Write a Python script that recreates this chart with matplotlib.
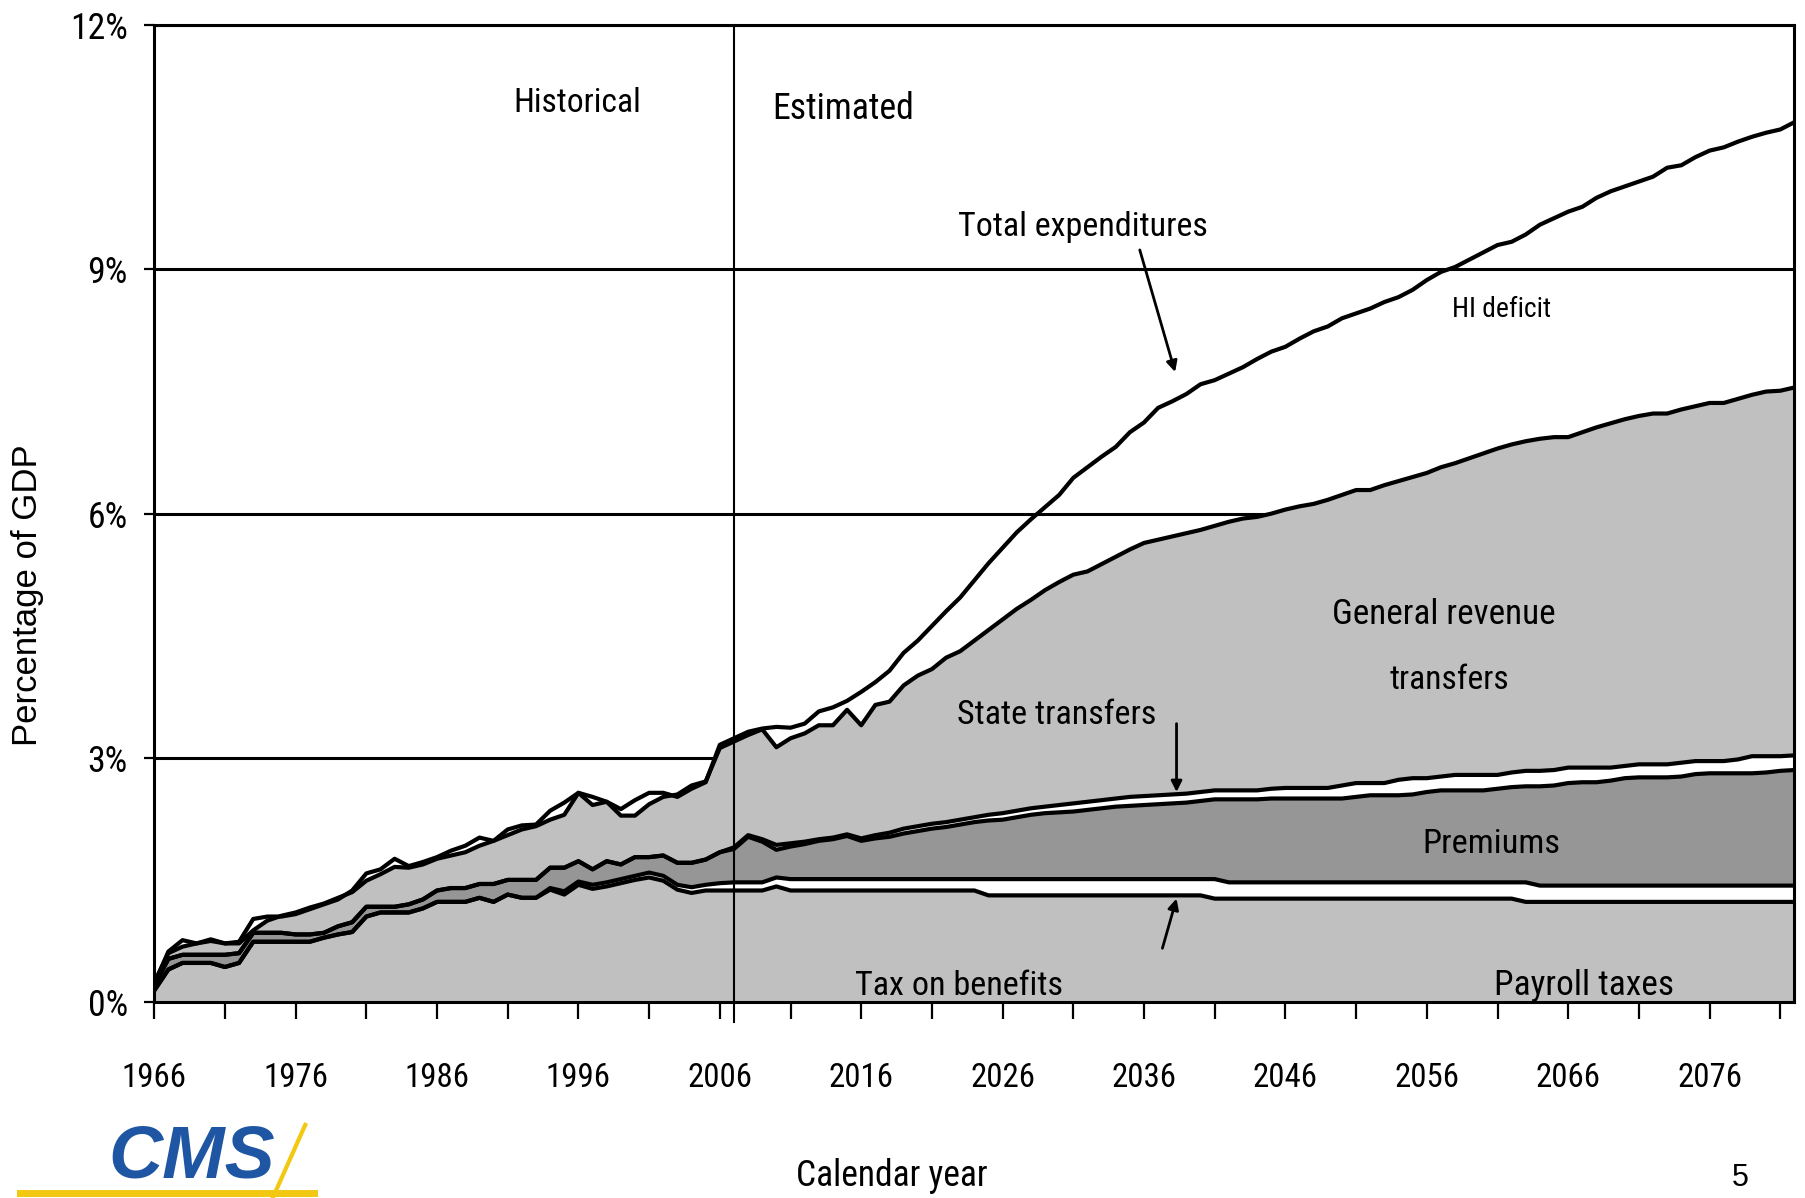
import numpy as np
import matplotlib
matplotlib.use("Agg")
import matplotlib.pyplot as plt
from matplotlib.font_manager import fontManager, FontProperties
from matplotlib.lines import Line2D

# calendar years 1966-2082, levels in percent of GDP (tops of the stacked layers)
years = np.arange(1966, 2083)

payroll_top = [
    0.14, 0.40, 0.48, 0.48, 0.48, 0.43, 0.48, 0.74, 0.74, 0.74,
    0.74, 0.74, 0.79, 0.83, 0.86, 1.05, 1.10, 1.10, 1.10, 1.15,
    1.23, 1.23, 1.23, 1.28, 1.23, 1.32, 1.28, 1.28, 1.38, 1.32,
    1.44, 1.39, 1.42, 1.46, 1.50, 1.53, 1.49, 1.38, 1.34, 1.37,
    1.37, 1.37, 1.37, 1.37, 1.42, 1.37, 1.37, 1.37, 1.37, 1.37,
    1.37, 1.37, 1.37, 1.37, 1.37, 1.37, 1.37, 1.37, 1.37, 1.31,
    1.31, 1.31, 1.31, 1.31, 1.31, 1.31, 1.31, 1.31, 1.31, 1.31,
    1.31, 1.31, 1.31, 1.31, 1.31, 1.27, 1.27, 1.27, 1.27, 1.27,
    1.27, 1.27, 1.27, 1.27, 1.27, 1.27, 1.27, 1.27, 1.27, 1.27,
    1.27, 1.27, 1.27, 1.27, 1.27, 1.27, 1.27, 1.23, 1.23, 1.23,
    1.23, 1.23, 1.23, 1.23, 1.23, 1.23, 1.23, 1.23, 1.23, 1.23,
    1.23, 1.23, 1.23, 1.23, 1.23, 1.23, 1.23,
]

tax_benefits_top = [
    0.14, 0.40, 0.48, 0.48, 0.48, 0.43, 0.48, 0.74, 0.74, 0.74,
    0.74, 0.74, 0.79, 0.83, 0.86, 1.05, 1.10, 1.10, 1.10, 1.15,
    1.23, 1.23, 1.23, 1.28, 1.23, 1.32, 1.28, 1.28, 1.40, 1.36,
    1.48, 1.44, 1.47, 1.51, 1.55, 1.59, 1.55, 1.44, 1.41, 1.44,
    1.46, 1.47, 1.47, 1.47, 1.53, 1.51, 1.51, 1.51, 1.51, 1.51,
    1.51, 1.51, 1.51, 1.51, 1.51, 1.51, 1.51, 1.51, 1.51, 1.51,
    1.51, 1.51, 1.51, 1.51, 1.51, 1.51, 1.51, 1.51, 1.51, 1.51,
    1.51, 1.51, 1.51, 1.51, 1.51, 1.51, 1.47, 1.47, 1.47, 1.47,
    1.47, 1.47, 1.47, 1.47, 1.47, 1.47, 1.47, 1.47, 1.47, 1.47,
    1.47, 1.47, 1.47, 1.47, 1.47, 1.47, 1.47, 1.47, 1.43, 1.43,
    1.43, 1.43, 1.43, 1.43, 1.43, 1.43, 1.43, 1.43, 1.43, 1.43,
    1.43, 1.43, 1.43, 1.43, 1.43, 1.43, 1.43,
]

premiums_top = [
    0.20, 0.53, 0.58, 0.58, 0.58, 0.58, 0.60, 0.85, 0.85, 0.85,
    0.83, 0.83, 0.85, 0.93, 0.98, 1.17, 1.17, 1.17, 1.20, 1.26,
    1.37, 1.40, 1.40, 1.45, 1.45, 1.50, 1.50, 1.50, 1.65, 1.65,
    1.73, 1.63, 1.73, 1.69, 1.78, 1.78, 1.80, 1.71, 1.71, 1.75,
    1.84, 1.88, 2.03, 1.97, 1.87, 1.91, 1.94, 1.98, 2.00, 2.04,
    1.98, 2.01, 2.03, 2.07, 2.10, 2.13, 2.15, 2.18, 2.21, 2.23,
    2.24, 2.27, 2.30, 2.32, 2.33, 2.34, 2.36, 2.38, 2.40, 2.41,
    2.42, 2.43, 2.44, 2.45, 2.47, 2.49, 2.49, 2.49, 2.49, 2.50,
    2.50, 2.50, 2.50, 2.50, 2.50, 2.52, 2.54, 2.54, 2.54, 2.55,
    2.58, 2.60, 2.60, 2.60, 2.60, 2.62, 2.64, 2.65, 2.65, 2.66,
    2.69, 2.70, 2.70, 2.72, 2.75, 2.76, 2.76, 2.76, 2.77, 2.80,
    2.81, 2.81, 2.81, 2.81, 2.82, 2.84, 2.85,
]

state_transfers_top = [
    0.20, 0.53, 0.58, 0.58, 0.58, 0.58, 0.60, 0.85, 0.85, 0.85,
    0.83, 0.83, 0.85, 0.93, 0.98, 1.17, 1.17, 1.17, 1.20, 1.26,
    1.37, 1.40, 1.40, 1.45, 1.45, 1.50, 1.50, 1.50, 1.65, 1.65,
    1.73, 1.63, 1.73, 1.69, 1.78, 1.78, 1.80, 1.71, 1.71, 1.75,
    1.84, 1.90, 2.05, 2.00, 1.93, 1.95, 1.97, 2.00, 2.02, 2.06,
    2.01, 2.05, 2.08, 2.13, 2.16, 2.19, 2.21, 2.24, 2.27, 2.30,
    2.32, 2.35, 2.38, 2.40, 2.42, 2.44, 2.46, 2.48, 2.50, 2.52,
    2.53, 2.54, 2.55, 2.56, 2.58, 2.60, 2.60, 2.60, 2.60, 2.62,
    2.63, 2.63, 2.63, 2.63, 2.66, 2.69, 2.69, 2.69, 2.73, 2.75,
    2.75, 2.77, 2.79, 2.79, 2.79, 2.79, 2.82, 2.84, 2.84, 2.85,
    2.88, 2.88, 2.88, 2.88, 2.90, 2.92, 2.92, 2.92, 2.94, 2.96,
    2.96, 2.96, 2.98, 3.02, 3.02, 3.02, 3.03,
]

general_revenue_top = [
    0.24, 0.60, 0.68, 0.72, 0.75, 0.72, 0.72, 0.88, 1.00, 1.06,
    1.10, 1.16, 1.21, 1.28, 1.35, 1.49, 1.57, 1.66, 1.65, 1.69,
    1.76, 1.80, 1.84, 1.92, 1.98, 2.05, 2.12, 2.16, 2.24, 2.30,
    2.57, 2.42, 2.46, 2.29, 2.29, 2.43, 2.52, 2.55, 2.66, 2.71,
    3.12, 3.20, 3.28, 3.35, 3.13, 3.24, 3.30, 3.40, 3.40, 3.59,
    3.40, 3.65, 3.69, 3.89, 4.01, 4.09, 4.23, 4.31, 4.44, 4.57,
    4.70, 4.83, 4.94, 5.06, 5.16, 5.25, 5.29, 5.38, 5.47, 5.56,
    5.64, 5.68, 5.72, 5.76, 5.80, 5.85, 5.90, 5.94, 5.96, 6.00,
    6.05, 6.09, 6.12, 6.17, 6.23, 6.29, 6.29, 6.35, 6.40, 6.45,
    6.50, 6.57, 6.62, 6.68, 6.74, 6.80, 6.85, 6.89, 6.92, 6.94,
    6.94, 7.00, 7.06, 7.11, 7.16, 7.20, 7.23, 7.23, 7.28, 7.32,
    7.36, 7.36, 7.41, 7.46, 7.50, 7.51, 7.55,
]

total_expenditures = [
    0.22, 0.62, 0.76, 0.72, 0.77, 0.72, 0.74, 1.02, 1.05, 1.05,
    1.08, 1.14, 1.20, 1.26, 1.37, 1.58, 1.63, 1.76, 1.67, 1.72,
    1.78, 1.86, 1.92, 2.02, 1.98, 2.12, 2.17, 2.18, 2.35, 2.45,
    2.57, 2.52, 2.46, 2.37, 2.48, 2.57, 2.57, 2.52, 2.62, 2.70,
    3.16, 3.24, 3.32, 3.36, 3.38, 3.37, 3.42, 3.57, 3.62, 3.70,
    3.81, 3.93, 4.07, 4.29, 4.44, 4.62, 4.80, 4.97, 5.18, 5.39,
    5.58, 5.77, 5.93, 6.08, 6.23, 6.44, 6.57, 6.70, 6.82, 7.00,
    7.12, 7.30, 7.38, 7.47, 7.59, 7.64, 7.72, 7.80, 7.90, 7.99,
    8.05, 8.15, 8.24, 8.30, 8.40, 8.46, 8.52, 8.60, 8.66, 8.75,
    8.87, 8.97, 9.03, 9.12, 9.21, 9.30, 9.34, 9.43, 9.55, 9.63,
    9.71, 9.77, 9.88, 9.96, 10.02, 10.08, 10.14, 10.25, 10.28, 10.38,
    10.46, 10.50, 10.57, 10.63, 10.68, 10.72, 10.81,
]

split_year = 2007
ytick_vals = [0, 3, 6, 9, 12]
ytick_labels = ["0%", "3%", "6%", "9%", "12%"]
xtick_major = list(range(1966, 2082, 10))
xtick_minor = list(range(1971, 2082, 10))

light = "#c0c0c0"
dark = "#969696"


def narrow_font():
    # the slide uses Arial Narrow; take the closest condensed face that is installed
    wanted = ["Liberation Sans Narrow", "Arial Narrow", "Roboto Condensed",
              "Open Sans Condensed", "Noto Sans Condensed"]
    for name in wanted:
        for f in fontManager.ttflist:
            if f.name == name and f.weight in (400, "normal", "regular") and f.style == "normal":
                return f.fname
    for f in fontManager.ttflist:
        if f.stretch in ("condensed", "semi-condensed") and f.style == "normal" \
                and f.weight in (400, "normal", "regular"):
            return f.fname
    return None


nf = narrow_font()


def nprop(size):
    if nf:
        return FontProperties(fname=nf, size=size)
    return FontProperties(family="Liberation Sans", size=size)


fig = plt.figure(figsize=(18.06, 11.98), dpi=100)
ax = fig.add_axes([0.0854, 0.1636, 0.9082, 0.8153])

# stacked layers, bottom to top
layers = [
    (np.zeros(len(years)), payroll_top, light),
    (payroll_top, tax_benefits_top, "white"),
    (tax_benefits_top, premiums_top, dark),
    (premiums_top, state_transfers_top, "white"),
    (state_transfers_top, general_revenue_top, light),
]
for lo, hi, col in layers:
    ax.fill_between(years, lo, hi, facecolor=col, edgecolor="none", zorder=2)
for top in [payroll_top, tax_benefits_top, premiums_top, state_transfers_top, general_revenue_top]:
    ax.plot(years, top, color="black", lw=3, zorder=3)
ax.plot(years, total_expenditures, color="black", lw=3, zorder=3)

# gridlines sit behind the areas
for v in ytick_vals[1:]:
    ax.axhline(v, color="black", lw=2.2, zorder=1)

ax.plot([split_year, split_year], [-0.25, 12], color="black", lw=1.5, zorder=4, clip_on=False)

ax.set_xlim(1966, 2082)
ax.set_ylim(0, 12)

ax.set_yticks(ytick_vals)
ax.set_yticklabels(ytick_labels)
ax.set_xticks(xtick_major)
ax.set_xticks(xtick_minor, minor=True)
ax.set_xticklabels([str(y) for y in xtick_major])
ax.tick_params(axis="y", direction="out", length=7, width=1.6, pad=12)
ax.tick_params(axis="x", which="both", direction="out", length=12, width=1.6, pad=31)
for s in ax.spines.values():
    s.set_linewidth(2.2)
    s.set_color("black")

texts = []
# (x, y, label, target width in px)
for x, y, s, w in [
    (1995.9, 10.94, "Historical", 128),
    (2014.7, 10.85, "Estimated", 142),
    (2031.7, 9.41, "Total expenditures", 250),
    (2061.3, 8.41, "HI deficit", 99),
    (2057.2, 4.64, "General revenue", 223),
    (2057.6, 3.85, "transfers", 120),
    (2029.8, 3.42, "State transfers", 200),
    (2060.6, 1.83, "Premiums", 138),
    (2022.9, 0.09, "Tax on benefits", 208),
    (2067.1, 0.09, "Payroll taxes", 180),
]:
    t = ax.text(x, y, s, fontproperties=nprop(26), color="black",
                ha="center", va="baseline", zorder=5)
    texts.append((t, w))

cal = fig.text(0.494, 0.010, "Calendar year", fontproperties=nprop(26),
               ha="center", va="baseline")
texts.append((cal, 192))

arrow = dict(arrowstyle="-|>", color="black", lw=2, mutation_scale=16, shrinkA=0, shrinkB=0)
ax.annotate("", xy=(2038.2, 7.74), xytext=(2035.7, 9.24), arrowprops=arrow, zorder=5)
ax.annotate("", xy=(2038.3, 2.58), xytext=(2038.3, 3.42), arrowprops=arrow, zorder=5)
ax.annotate("", xy=(2038.3, 1.27), xytext=(2037.3, 0.66), arrowprops=arrow, zorder=5)

fig.text(0.0155, 0.503, "Percentage of GDP", family="Liberation Sans", fontsize=25,
         rotation=90, ha="center", va="center")
fig.text(0.9635, 0.004, "5", family="Liberation Sans", fontsize=22, ha="center", va="bottom")

# CMS logo
fig.text(0.106, 0.0175, "CMS", family="Liberation Sans", fontsize=54, fontweight="bold",
         style="italic", color="#1f56a3", ha="center", va="baseline")
fig.add_artist(Line2D([0.011, 0.174], [0.0042, 0.0042], transform=fig.transFigure,
                      color="#f2c811", lw=5))
fig.add_artist(Line2D([0.169, 0.151], [0.061, 0.0], transform=fig.transFigure,
                      color="#f2c811", lw=3))

# size the labels so their widths match the slide
renderer = fig.canvas.get_renderer()
for t, w in texts:
    cur = t.get_window_extent(renderer).width
    t.set_fontsize(t.get_fontsize() * w / cur)

xt = ax.get_xticklabels()
for t in xt:
    t.set_fontproperties(nprop(26))
cur = xt[0].get_window_extent(renderer).width
for t in xt:
    t.set_fontsize(26 * 65 / cur)

yt = ax.get_yticklabels()
for t in yt:
    t.set_fontproperties(nprop(24))
cur = yt[-1].get_window_extent(renderer).width
for t in yt:
    t.set_fontsize(24 * 58 / cur)

fig.savefig("out.png", dpi=100)
